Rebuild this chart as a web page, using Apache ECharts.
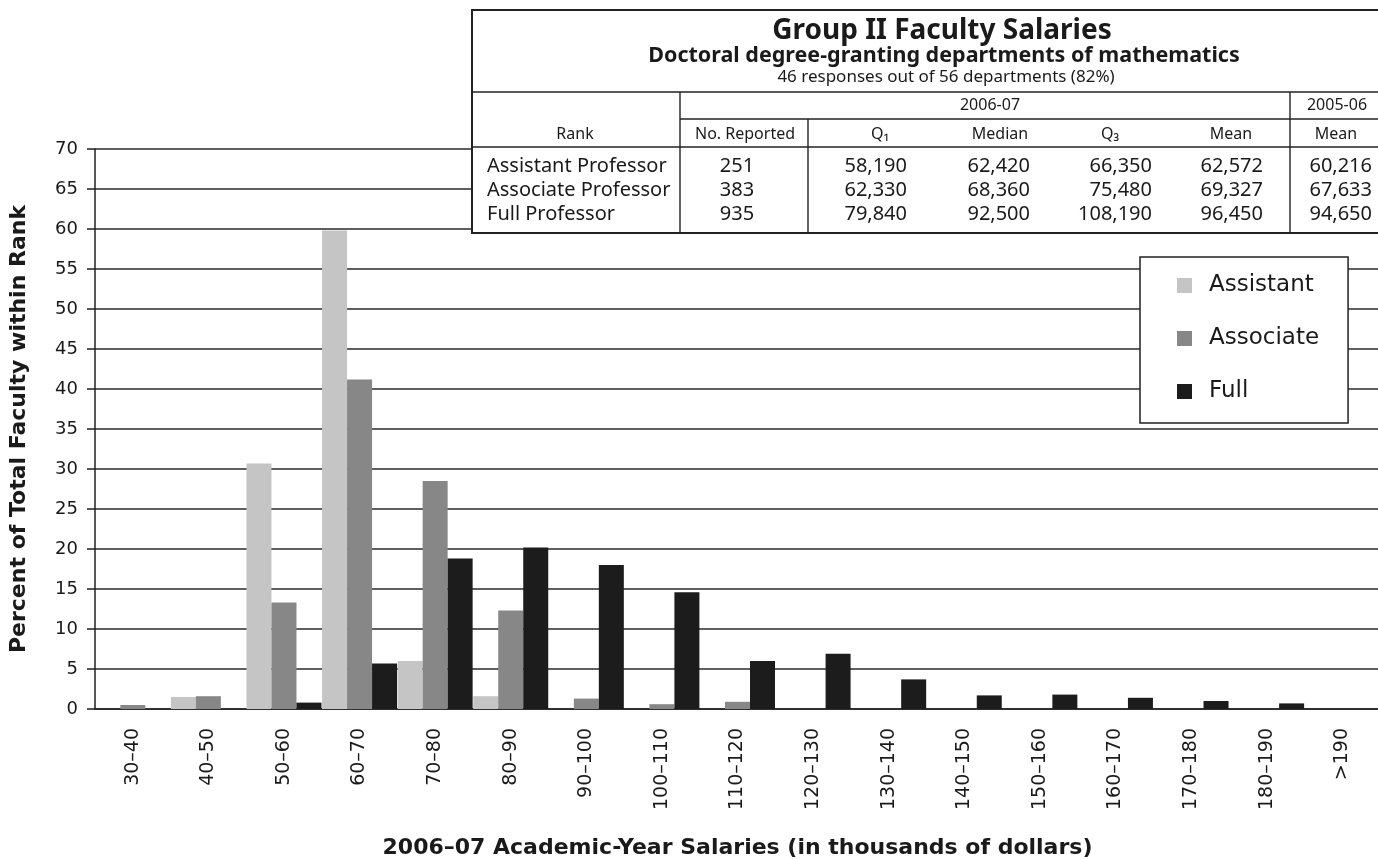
<!DOCTYPE html>
<html lang="en">
<head>
<meta charset="UTF-8">
<title>Group II Faculty Salaries</title>
<style>
  html, body { margin: 0; background: #fff; }
  #main { width: 1378px; height: 860px; }
</style>
</head>
<body>
<div id="main"></div>
<script src="https://cdn.jsdelivr.net/npm/echarts@6/dist/echarts.min.js"></script>
<script>
// salary bands (thousands of dollars)
var categories = ['30–40', '40–50', '50–60', '60–70', '70–80', '80–90', '90–100', '100–110',
  '110–120', '120–130', '130–140', '140–150', '150–160', '160–170', '170–180', '180–190', '>190'];
// percent of faculty within rank
var assistant = [0, 1.5, 30.7, 59.8, 6.0, 1.6, 0, 0, 0, 0, 0, 0, 0, 0, 0, 0, 0];
var associate = [0.5, 1.6, 13.3, 41.2, 28.5, 12.3, 1.3, 0.6, 0.9, 0, 0, 0, 0, 0, 0, 0, 0];
var full = [0, 0, 0.8, 5.7, 18.8, 20.2, 18.0, 14.6, 6.0, 6.9, 3.7, 1.7, 1.8, 1.4, 1.0, 0.7, 0];

// summary table
var ranks = ['Assistant Professor', 'Associate Professor', 'Full Professor'];
var reported = [251, 383, 935];
var q1 = [58190, 62330, 79840];
var median = [62420, 68360, 92500];
var q3 = [66350, 75480, 108190];
var mean = [62572, 69327, 96450];
var meanPrev = [60216, 67633, 94650];

var axisFont = '"DejaVu Sans", sans-serif';
var tableFont = '"Noto Sans", sans-serif';
var ink = '#1a1a1a';

function txt(x, y, s, size, weight, align) {
  return {
    type: 'text', x: x, y: y, z: 101,
    style: {
      text: s, fontSize: size, fontWeight: weight || 'normal', fontFamily: tableFont,
      fill: ink, align: align || 'center', verticalAlign: 'middle'
    }
  };
}
function ln(x1, y1, x2, y2) {
  return { type: 'line', z: 101, shape: { x1: x1, y1: y1, x2: x2, y2: y2 }, style: { stroke: '#222', lineWidth: 1.4 } };
}
function fmt(v) { return v.toLocaleString('en-US'); }

var table = [
  { type: 'rect', z: 100, shape: { x: 472, y: 10, width: 912, height: 223 }, style: { fill: '#fff', stroke: '#222', lineWidth: 2 } },
  txt(942, 31, 'Group II Faculty Salaries', 28, 'bold'),
  txt(944, 56, 'Doctoral degree-granting departments of mathematics', 21.5, 'bold'),
  txt(946, 77, '46 responses out of 56 departments (82%)', 17),
  ln(472, 92, 1384, 92),
  ln(680, 119, 1384, 119),
  ln(472, 147, 1384, 147),
  ln(680, 92, 680, 233),
  ln(808, 119, 808, 233),
  ln(1290, 92, 1290, 233),
  txt(990, 105, '2006-07', 16),
  txt(1337, 105, '2005-06', 16),
  txt(575, 134, 'Rank', 16),
  txt(745, 134, 'No. Reported', 16),
  txt(880, 134, 'Q₁', 16),
  txt(1000, 134, 'Median', 16),
  txt(1110, 134, 'Q₃', 16),
  txt(1231, 134, 'Mean', 16),
  txt(1336, 134, 'Mean', 16)
];
var rowY = [166, 190, 214];
var cols = [q1, median, q3, mean, meanPrev];
var colRight = [907, 1030, 1152, 1263, 1372];
ranks.forEach(function (r, i) {
  table.push(txt(487, rowY[i], r, 20, 'normal', 'left'));
  table.push(txt(737, rowY[i], String(reported[i]), 20));
  cols.forEach(function (c, j) {
    table.push(txt(colRight[j], rowY[i], fmt(c[i]), 20, 'normal', 'right'));
  });
});

var chart = echarts.init(document.getElementById('main'));
var option = {
  animation: false,
  textStyle: { fontFamily: axisFont },
  grid: { left: 95, right: -2, top: 149, bottom: 151, containLabel: false, outerBoundsMode: 'none' },
  legend: {
    orient: 'vertical', left: 1140, top: 257,
    backgroundColor: '#fff', borderColor: '#222', borderWidth: 1.5,
    padding: [17, 29, 20, 37], itemGap: 30, itemWidth: 15, itemHeight: 15, icon: 'rect',
    textStyle: { fontSize: 23, fontFamily: axisFont, color: ink, padding: [0, 0, 0, 12] },
    data: ['Assistant', 'Associate', 'Full']
  },
  xAxis: {
    type: 'category', data: categories,
    name: '2006–07 Academic-Year Salaries (in thousands of dollars)',
    nameLocation: 'middle', nameGap: 128,
    nameTextStyle: { fontSize: 22, fontWeight: 'bold', color: ink, fontFamily: axisFont },
    axisLine: { lineStyle: { color: '#222', width: 1.5 } },
    axisTick: { length: 9, lineStyle: { color: '#222', width: 1.5 } },
    axisLabel: { rotate: 90, fontSize: 19, margin: 19, color: ink, fontFamily: axisFont }
  },
  yAxis: {
    type: 'value', min: 0, max: 70, interval: 5,
    name: 'Percent of Total Faculty within Rank',
    nameLocation: 'middle', nameGap: 65, nameRotate: 90,
    nameTextStyle: { fontSize: 22, fontWeight: 'bold', color: ink, fontFamily: axisFont },
    axisLine: { show: true, lineStyle: { color: '#222', width: 1.5 } },
    axisTick: { show: true, length: 8, lineStyle: { color: '#222', width: 1.5 } },
    axisLabel: { fontSize: 18, margin: 17, color: ink, fontFamily: axisFont },
    splitLine: { lineStyle: { color: '#2a2a2a', width: 1.5 } }
  },
  series: [
    { name: 'Assistant', type: 'bar', data: assistant, barWidth: 25, barGap: '0%', itemStyle: { color: '#c5c5c5' } },
    { name: 'Associate', type: 'bar', data: associate, barWidth: 25, barGap: '0%', itemStyle: { color: '#878787' } },
    { name: 'Full', type: 'bar', data: full, barWidth: 25, barGap: '0%', itemStyle: { color: '#1c1c1c' } }
  ],
  graphic: table
};
chart.setOption(option);
</script>
</body>
</html>
